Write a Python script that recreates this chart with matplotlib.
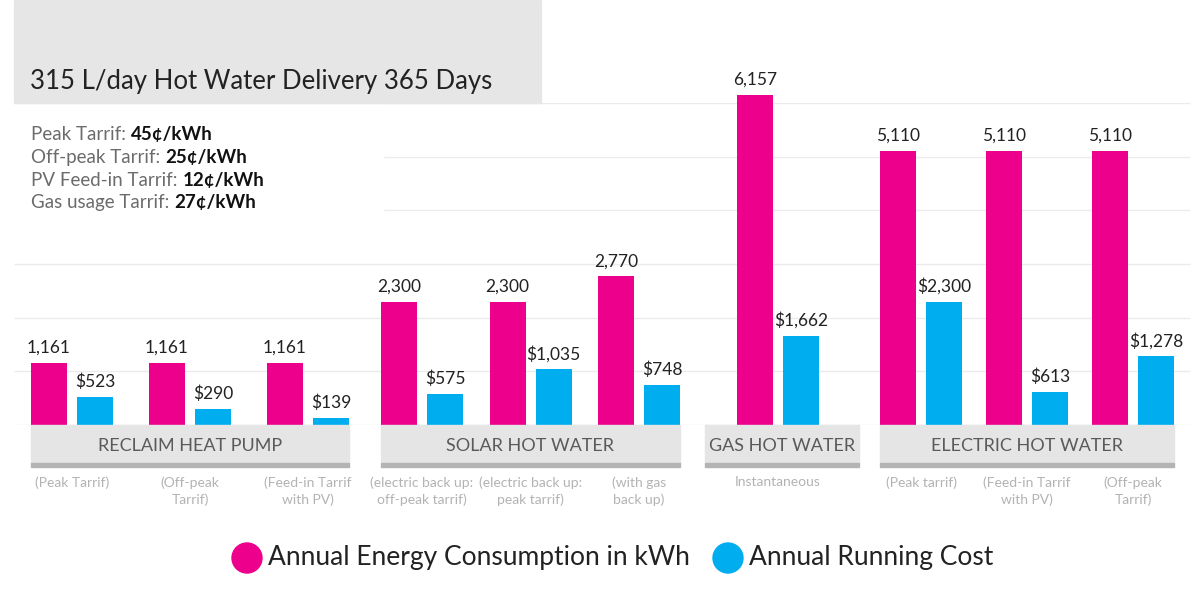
import numpy as np
import matplotlib.pyplot as plt
from matplotlib.patches import Rectangle, Circle

plt.rcParams['font.family'] = ['Lato', 'DejaVu Sans']

# data
categories = ["RECLAIM HEAT PUMP", "SOLAR HOT WATER", "GAS HOT WATER", "ELECTRIC HOT WATER"]
group_sizes = [3, 3, 1, 3]
sub_labels = ["(Peak Tarrif)", "(Off-peak\nTarrif)", "(Feed-in Tarrif\nwith PV)",
              "(electric back up:\noff-peak tarrif)", "(electric back up:\npeak tarrif)", "(with gas\nback up)",
              "Instantaneous",
              "(Peak tarrif)", "(Feed-in Tarrif\nwith PV)", "(Off-peak\nTarrif)"]
energy_kwh = [1161, 1161, 1161, 2300, 2300, 2770, 6157, 5110, 5110, 5110]
running_cost = [523, 290, 139, 575, 1035, 748, 1662, 2300, 613, 1278]
tariffs = [("Peak Tarrif: ", "45¢/kWh"),
           ("Off-peak Tarrif: ", "25¢/kWh"),
           ("PV Feed-in Tarrif: ", "12¢/kWh"),
           ("Gas usage Tarrif: ", "27¢/kWh")]
title = "315 L/day Hot Water Delivery 365 Days"
legend_labels = ["Annual Energy Consumption in kWh", "Annual Running Cost"]

PINK = '#EC008C'
BLUE = '#00AEEF'

# layout (pixels)
group_start = [31, 381, 737, 880]
group_pitch = [118, 108.5, 0, 106]
band_pad = [(0, 0), (0, 0), (32, 40), (0, 0)]
bar_w = 36
blue_off = 46

fig = plt.figure(figsize=(12, 6), dpi=100)

# bar axes: baseline at y=425px, 6000 at y=103px
ax = fig.add_axes([0, 175 / 600, 1, 322 / 600])
ax.set_xlim(0, 1200)
ax.set_ylim(0, 6000)
ax.axis('off')

# overlay axes in pixel coords (y down)
ov = fig.add_axes([0, 0, 1, 1])
ov.set_xlim(0, 1200)
ov.set_ylim(600, 0)
ov.axis('off')

ax.hlines(np.arange(0, 7000, 1000), 14, 1190, color='#ebebeb', lw=1, zorder=0)

# title box
ov.add_patch(Rectangle((14, 0), 527, 103, color='#e6e6e6', zorder=0))
ov.text(30, 81, title, fontsize=18.5, color='#222222', va='center', ha='left')

# tariffs, on a white patch that hides the grid
ov.add_patch(Rectangle((14, 105), 369, 110, color='white', zorder=0))
for k, (lab, val) in enumerate(tariffs):
    t = ov.text(31, 135 + k * 22.5, lab, fontsize=13.5, color='#6b6b6b', va='center', ha='left')
    ov.annotate(val, xy=(1, 0), xycoords=t, va='bottom', ha='left',
                fontsize=13.5, color='#111111', fontweight='bold')

xs = []
for g, n in enumerate(group_sizes):
    for i in range(n):
        xs.append(group_start[g] + i * group_pitch[g])
xs = np.array(xs)

ax.bar(xs, energy_kwh, width=bar_w, align='edge', color=PINK, clip_on=False, zorder=2)
ax.bar(xs + blue_off, running_cost, width=bar_w, align='edge', color=BLUE, clip_on=False, zorder=2)

for x, v in zip(xs, energy_kwh):
    ax.annotate(f'{v:,}', (x + bar_w / 2, v), xytext=(0, 5), textcoords='offset points',
                ha='center', va='bottom', fontsize=12.5, color='#222222', annotation_clip=False)
for x, v in zip(xs + blue_off, running_cost):
    ax.annotate(f'${v:,}', (x + bar_w / 2, v), xytext=(0, 5), textcoords='offset points',
                ha='center', va='bottom', fontsize=12.5, color='#222222', annotation_clip=False)

# category bands
k = 0
for g, n in enumerate(group_sizes):
    x0 = xs[k] - band_pad[g][0]
    x1 = xs[k + n - 1] + blue_off + bar_w + band_pad[g][1]
    ov.add_patch(Rectangle((x0, 425), x1 - x0, 38, color='#e5e5e5', zorder=1))
    ov.add_patch(Rectangle((x0, 463), x1 - x0, 4, color='#b4b4b4', zorder=1))
    ov.text((x0 + x1) / 2, 446, categories[g], fontsize=13, color='#5a5a5a', ha='center', va='center')
    k += n

for x, lab in zip(xs, sub_labels):
    ov.text(x + (blue_off + bar_w) / 2, 476, lab, fontsize=10, color='#b3b3b3',
            ha='center', va='top', linespacing=1.45)

# legend
for cx, col, lab in zip([247, 728], [PINK, BLUE], legend_labels):
    ov.add_patch(Circle((cx, 558), 15, color=col))
    ov.text(cx + 21, 558, lab, fontsize=19, color='#222222', ha='left', va='center')

fig.savefig('out.png', dpi=100)
